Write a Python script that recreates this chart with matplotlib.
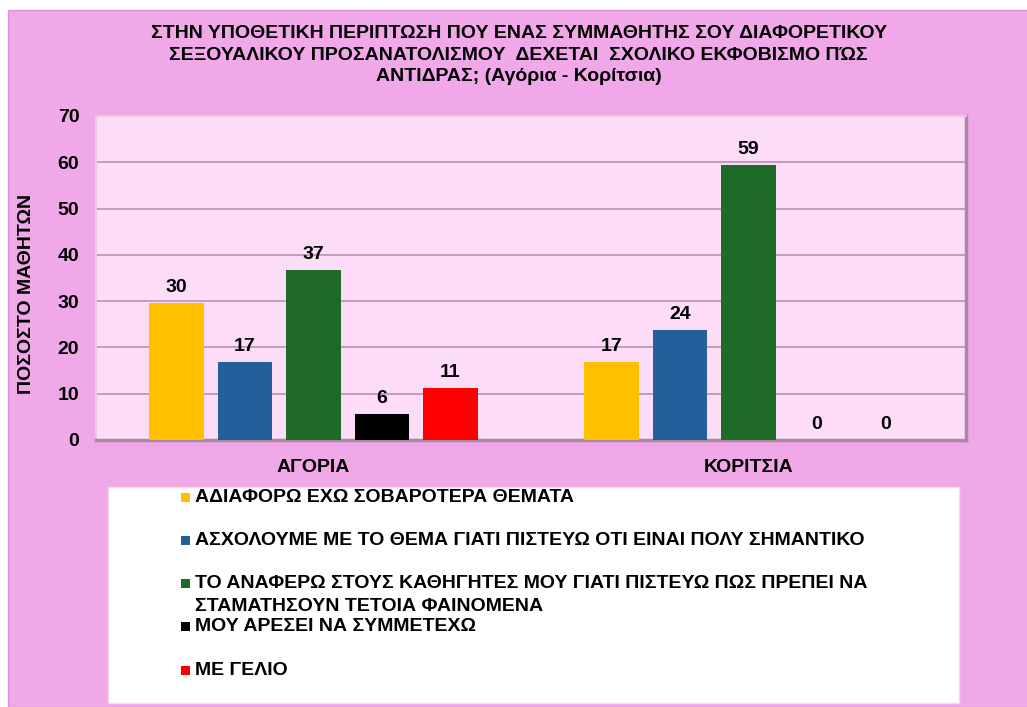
"""
Grouped bar chart: reaction to school bullying (boys - girls), percent of students.
"""
import matplotlib
matplotlib.use("Agg")
import matplotlib.pyplot as plt
from matplotlib.patches import Rectangle

# data
categories = ["ΑΓΟΡΙΑ", "ΚΟΡΙΤΣΙΑ"]
series_names = [
    "ΑΔΙΑΦΟΡΩ ΕΧΩ ΣΟΒΑΡΟΤΕΡΑ ΘΕΜΑΤΑ",
    "ΑΣΧΟΛΟΥΜΕ ΜΕ ΤΟ ΘΕΜΑ ΓΙΑΤΙ ΠΙΣΤΕΥΩ ΟΤΙ ΕΙΝΑΙ ΠΟΛΥ ΣΗΜΑΝΤΙΚΟ",
    "ΤΟ ΑΝΑΦΕΡΩ ΣΤΟΥΣ ΚΑΘΗΓΗΤΕΣ ΜΟΥ ΓΙΑΤΙ ΠΙΣΤΕΥΩ ΠΩΣ ΠΡΕΠΕΙ ΝΑ\nΣΤΑΜΑΤΗΣΟΥΝ ΤΕΤΟΙΑ ΦΑΙΝΟΜΕΝΑ",
    "ΜΟΥ ΑΡΕΣΕΙ ΝΑ ΣΥΜΜΕΤΕΧΩ",
    "ΜΕ ΓΕΛΙΟ",
]
boys = [29.6, 16.8, 36.7, 5.6, 11.2]
girls = [16.8, 23.8, 59.4, 0, 0]
yticks = [0, 10, 20, 30, 40, 50, 60, 70]

title = ("ΣΤΗΝ ΥΠΟΘΕΤΙΚΗ ΠΕΡΙΠΤΩΣΗ ΠΟΥ ΕΝΑΣ ΣΥΜΜΑΘΗΤΗΣ ΣΟΥ ΔΙΑΦΟΡΕΤΙΚΟΥ\n"
         "ΣΕΞΟΥΑΛΙΚΟΥ ΠΡΟΣΑΝΑΤΟΛΙΣΜΟΥ  ΔΕΧΕΤΑΙ  ΣΧΟΛΙΚΟ ΕΚΦΟΒΙΣΜΟ ΠΏΣ\n"
         "ΑΝΤΙΔΡΑΣ; (Αγόρια - Κορίτσια)")
ylabel = "ΠΟΣΟΣΤΟ ΜΑΘΗΤΩΝ"

colors = ["#FFC000", "#22609A", "#1E6B28", "#000000", "#FF0000"]
PINK = "#F0A8E8"
PLOT_BG = "#FDDCF8"

plt.rcParams["font.family"] = ["Liberation Sans", "DejaVu Sans"]

W, H = 1027, 707
fig = plt.figure(figsize=(W / 100, H / 100), dpi=100)
fig.patch.set_facecolor("white")

# pink panel with a thin white margin at top and left
fig.add_artist(Rectangle((8 / W, 0), 1, 1 - 10 / H, transform=fig.transFigure,
                         facecolor=PINK, edgecolor="#E090D8", lw=1, zorder=0))

ax = fig.add_axes([96 / W, 1 - 440 / H, 870 / W, 324 / H])
ax.set_facecolor(PLOT_BG)

n = len(series_names)
slot = 0.1575
width = 0.126
for i in range(n):
    xs = [c + (i - (n - 1) / 2) * slot for c in range(len(categories))]
    vals = [boys[i], girls[i]]
    bars = ax.bar(xs, vals, width, color=colors[i], zorder=3)
    for b, v in zip(bars, vals):
        ax.annotate(f"{v:.0f}", (b.get_x() + b.get_width() / 2, v),
                    xytext=(0, 5), textcoords="offset points",
                    ha="center", va="bottom", fontsize=14, fontweight="bold")

ax.set_xlim(-0.5, 1.5)
ax.set_ylim(0, 70)
ax.set_yticks(yticks)
ax.set_xticks(range(len(categories)))
ax.set_xticklabels(categories)
ax.tick_params(axis="both", length=0, labelsize=14)
ax.tick_params(axis="y", pad=12)
ax.tick_params(axis="x", pad=14)
for lbl in ax.get_xticklabels() + ax.get_yticklabels():
    lbl.set_fontweight("bold")

ax.yaxis.grid(True, color="#B890B4", lw=1.2, zorder=1)
ax.set_axisbelow(True)

for side in ["top", "left"]:
    ax.spines[side].set_color("#E8C8E4")
    ax.spines[side].set_linewidth(1.5)
for side in ["right", "bottom"]:
    ax.spines[side].set_color("#A888A4")
    ax.spines[side].set_linewidth(2.5)

ax.set_ylabel(ylabel, fontsize=14, fontweight="bold")
ax.yaxis.set_label_coords(-0.0706, 0.45)

fig.text(0.505, 1 - 25 / H, title, ha="center", va="top", fontsize=14,
         fontweight="bold", linespacing=1.35)

# legend box
fig.add_artist(Rectangle((108 / W, 1 - 703 / H), 851 / W, 216 / H,
                         transform=fig.transFigure, facecolor="white",
                         edgecolor="#F4D8F0", lw=1, zorder=1))
for i, name in enumerate(series_names):
    yc = 497 + i * 43.3
    fig.add_artist(Rectangle((181 / W, 1 - (yc + 4.5) / H), 9 / W, 9 / H,
                             transform=fig.transFigure, facecolor=colors[i],
                             edgecolor="none", zorder=2))
    for k, line in enumerate(name.split("\n")):
        fig.text(195 / W, 1 - (yc + k * 23) / H, line, ha="left", va="center",
                 fontsize=14, fontweight="bold", zorder=3)

fig.savefig("out.png", dpi=100, facecolor=fig.get_facecolor())
